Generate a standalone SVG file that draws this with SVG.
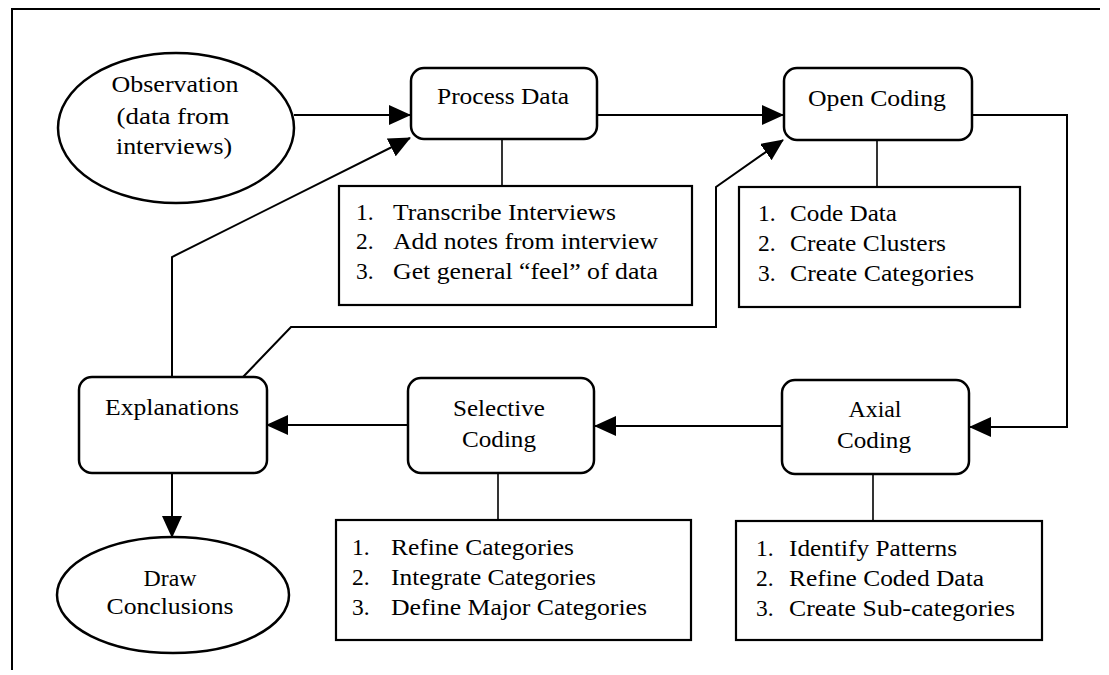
<svg xmlns="http://www.w3.org/2000/svg" width="1109" height="675" viewBox="0 0 1109 675">
<defs>
<style>
text{font-family:"Liberation Serif","Times New Roman",serif;font-size:23.5px;fill:#000}
.c{text-anchor:middle}
.box{fill:#fff;stroke:#000;stroke-width:2.5}
.lst{fill:#fff;stroke:#000;stroke-width:2.2}
.ln{fill:none;stroke:#000;stroke-width:2}
.thin{fill:none;stroke:#000;stroke-width:1.6}
</style>
<marker id="ah" markerUnits="userSpaceOnUse" markerWidth="22" markerHeight="20" refX="21" refY="10" orient="auto">
<path d="M0,0 L22,10 L0,20 Z" fill="#000"/>
</marker>
</defs>
<rect width="1109" height="675" fill="#fff"/>
<path d="M12,670 V9 H1100" fill="none" stroke="#000" stroke-width="2"/>

<g id="connectors">
<line class="ln" x1="294" y1="115" x2="410" y2="115" marker-end="url(#ah)"/>
<line class="ln" x1="597" y1="115" x2="783" y2="115" marker-end="url(#ah)"/>
<polyline class="ln" points="972,115 1067,115 1067,427 970,427" marker-end="url(#ah)"/>
<line class="ln" x1="782" y1="426" x2="595" y2="426" marker-end="url(#ah)"/>
<line class="ln" x1="408" y1="425" x2="267" y2="425" marker-end="url(#ah)"/>
<line class="ln" x1="172" y1="473" x2="172" y2="537" marker-end="url(#ah)"/>
<polyline class="ln" points="172,377 172,257 410,138" marker-end="url(#ah)"/>
<polyline class="ln" points="243,377 291,327 716,327 716,187 783,140" marker-end="url(#ah)"/>
<line class="thin" x1="502" y1="139" x2="502" y2="186"/>
<line class="thin" x1="877" y1="140" x2="877" y2="187"/>
<line class="thin" x1="498" y1="473" x2="498" y2="520"/>
<line class="thin" x1="873" y1="474" x2="873" y2="521"/>
</g>

<g id="observation">
<ellipse class="box" cx="176" cy="128" rx="118" ry="75"/>
<text class="c" x="175" y="92" textLength="127" lengthAdjust="spacingAndGlyphs">Observation</text>
<text class="c" x="173" y="124" textLength="113" lengthAdjust="spacingAndGlyphs">(data from</text>
<text class="c" x="174" y="154" textLength="116" lengthAdjust="spacingAndGlyphs">interviews)</text>
</g>

<g id="process-data">
<rect class="box" x="411" y="68" width="186" height="71" rx="13"/>
<text class="c" x="503" y="104" textLength="132" lengthAdjust="spacingAndGlyphs">Process Data</text>
</g>

<g id="process-data-steps">
<rect class="lst" x="339" y="186" width="353" height="119"/>
<text x="356" y="220">1.</text><text x="393" y="220" textLength="223" lengthAdjust="spacingAndGlyphs">Transcribe Interviews</text>
<text x="356" y="249">2.</text><text x="393" y="249" textLength="265" lengthAdjust="spacingAndGlyphs">Add notes from interview</text>
<text x="356" y="279">3.</text><text x="393" y="279" textLength="265" lengthAdjust="spacingAndGlyphs">Get general “feel” of data</text>
</g>

<g id="open-coding">
<rect class="box" x="784" y="68" width="188" height="72" rx="13"/>
<text class="c" x="877" y="106" textLength="138" lengthAdjust="spacingAndGlyphs">Open Coding</text>
</g>

<g id="open-coding-steps">
<rect class="lst" x="739" y="187" width="281" height="120"/>
<text x="758" y="221">1.</text><text x="790" y="221" textLength="107" lengthAdjust="spacingAndGlyphs">Code Data</text>
<text x="758" y="251">2.</text><text x="790" y="251" textLength="156" lengthAdjust="spacingAndGlyphs">Create Clusters</text>
<text x="758" y="281">3.</text><text x="790" y="281" textLength="184" lengthAdjust="spacingAndGlyphs">Create Categories</text>
</g>

<g id="explanations">
<rect class="box" x="79" y="377" width="188" height="96" rx="13"/>
<text class="c" x="172" y="415" textLength="134" lengthAdjust="spacingAndGlyphs">Explanations</text>
</g>

<g id="selective-coding">
<rect class="box" x="408" y="378" width="186" height="95" rx="13"/>
<text class="c" x="499" y="416" textLength="92" lengthAdjust="spacingAndGlyphs">Selective</text>
<text class="c" x="499" y="447" textLength="74" lengthAdjust="spacingAndGlyphs">Coding</text>
</g>

<g id="selective-coding-steps">
<rect class="lst" x="336" y="520" width="355" height="120"/>
<text x="352" y="555">1.</text><text x="391" y="555" textLength="183" lengthAdjust="spacingAndGlyphs">Refine Categories</text>
<text x="352" y="585">2.</text><text x="391" y="585" textLength="205" lengthAdjust="spacingAndGlyphs">Integrate Categories</text>
<text x="352" y="615">3.</text><text x="391" y="615" textLength="256" lengthAdjust="spacingAndGlyphs">Define Major Categories</text>
</g>

<g id="axial-coding">
<rect class="box" x="782" y="380" width="187" height="94" rx="13"/>
<text class="c" x="875" y="417" textLength="53" lengthAdjust="spacingAndGlyphs">Axial</text>
<text class="c" x="874" y="448" textLength="74" lengthAdjust="spacingAndGlyphs">Coding</text>
</g>

<g id="axial-coding-steps">
<rect class="lst" x="736" y="521" width="306" height="119"/>
<text x="756" y="556">1.</text><text x="789" y="556" textLength="168" lengthAdjust="spacingAndGlyphs">Identify Patterns</text>
<text x="756" y="586">2.</text><text x="789" y="586" textLength="195" lengthAdjust="spacingAndGlyphs">Refine Coded Data</text>
<text x="756" y="616">3.</text><text x="789" y="616" textLength="226" lengthAdjust="spacingAndGlyphs">Create Sub-categories</text>
</g>

<g id="draw-conclusions">
<ellipse class="box" cx="173" cy="595" rx="116" ry="58"/>
<text class="c" x="170" y="586" textLength="53" lengthAdjust="spacingAndGlyphs">Draw</text>
<text class="c" x="170" y="614" textLength="127" lengthAdjust="spacingAndGlyphs">Conclusions</text>
</g>
</svg>
